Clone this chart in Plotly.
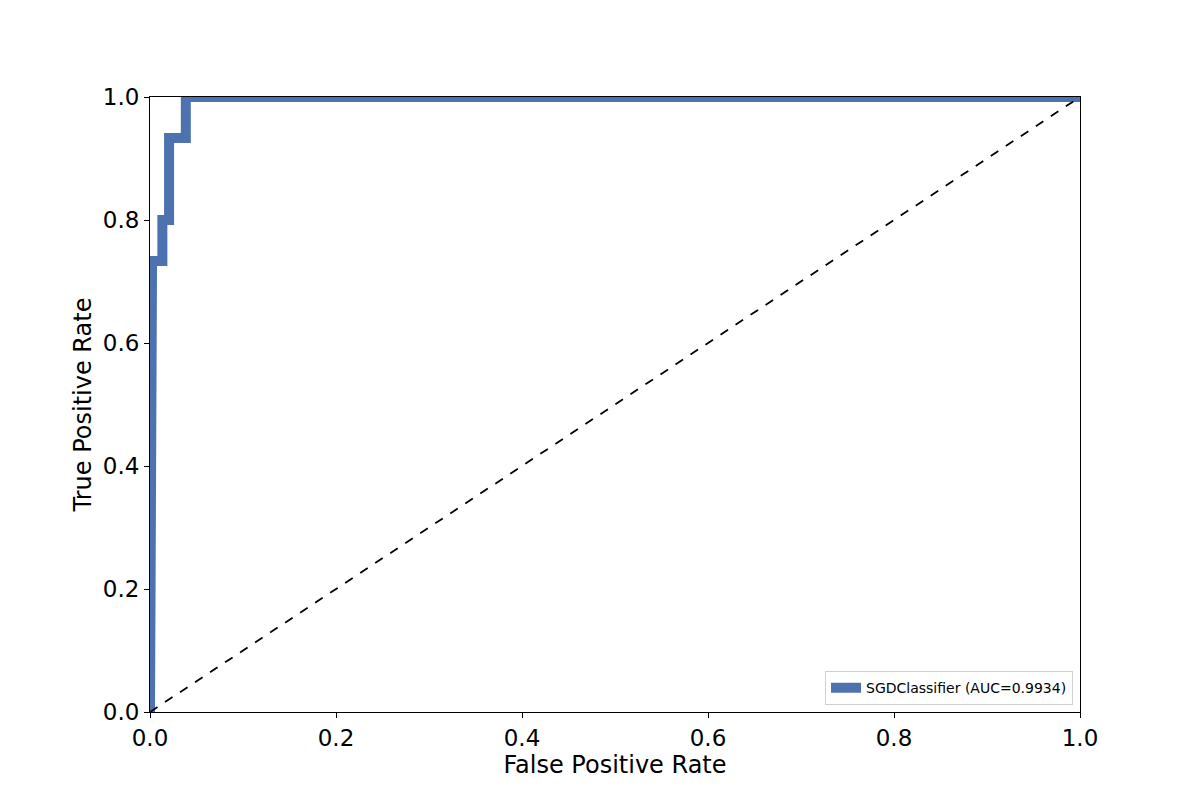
import plotly.graph_objects as go

# ROC curve points
fpr = [0.0, 0.0, 0.0022, 0.0022, 0.0133, 0.0133, 0.0205, 0.0205, 0.0385, 0.0385, 1.0]
tpr = [0.0, 0.6667, 0.6667, 0.7333, 0.7333, 0.8, 0.8, 0.9333, 0.9333, 1.0, 1.0]
diag_x = [0.0, 1.0]
diag_y = [0.0, 1.0]
label = 'SGDClassifier (AUC=0.9934)'

fig = go.Figure()
fig.add_trace(go.Scatter(x=fpr, y=tpr, mode='lines', name=label,
                         line=dict(color='#4c72b0', width=10)))
fig.add_trace(go.Scatter(x=diag_x, y=diag_y, mode='lines', showlegend=False,
                         line=dict(color='black', width=1.8, dash='dash')))

axis_common = dict(range=[0, 1], dtick=0.2, tickformat='.1f', showgrid=False,
                   zeroline=False, showline=True, linecolor='black', linewidth=1,
                   mirror=True, ticks='outside', ticklen=5, tickcolor='black',
                   tickfont=dict(size=23, color='black'))

# page body has an 8px margin, so the figure margins are shifted by that
fig.update_layout(
    width=1200, height=800,
    margin=dict(l=142, r=128, t=89, b=96),
    plot_bgcolor='white', paper_bgcolor='white',
    font=dict(family='DejaVu Sans', color='black'),
    xaxis=dict(title=dict(text='False Positive Rate', font=dict(size=24), standoff=4), **axis_common),
    yaxis=dict(title=dict(text='True Positive Rate', font=dict(size=24), standoff=4), **axis_common),
    legend=dict(x=0.9925, y=0.011, xanchor='right', yanchor='bottom',
                bgcolor='white', bordercolor='#d0d0d0', borderwidth=1,
                font=dict(size=14)),
)

fig.write_html("out.html")
